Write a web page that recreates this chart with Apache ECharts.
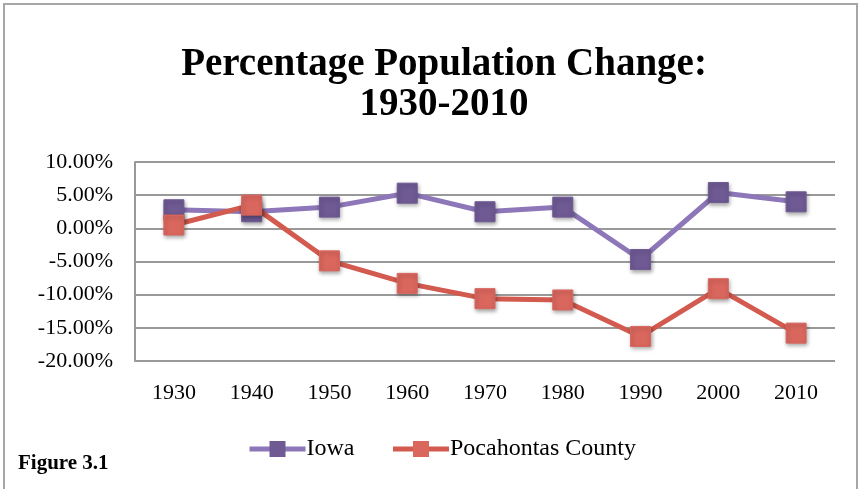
<!DOCTYPE html>
<html>
<head>
<meta charset="utf-8">
<script src="https://cdn.jsdelivr.net/npm/echarts@6/dist/echarts.min.js"></script>
<style>
  html, body { margin: 0; padding: 0; background: #fff; }
  #chart { width: 860px; height: 489px; }
</style>
</head>
<body>
<div id="chart"></div>
<script>
// decades on the x axis
var years = ['1930', '1940', '1950', '1960', '1970', '1980', '1990', '2000', '2010'];
// percent change per decade
var iowa = [2.8, 2.5, 3.2, 5.3, 2.5, 3.2, -4.7, 5.4, 4.0];
var pocahontas = [0.5, 3.5, -4.9, -8.3, -10.6, -10.8, -16.3, -9.1, -15.8];
var yTicks = { min: -20, max: 10, step: 5 };

var font = 'Liberation Serif';
var chart = echarts.init(document.getElementById('chart'));

function seriesOf(name, data, lineColor, markColor) {
    return {
        name: name,
        type: 'line',
        data: data,
        symbol: 'rect',
        symbolSize: 20,
        lineStyle: { color: lineColor, width: 5 },
        itemStyle: {
            color: markColor,
            borderColor: markColor,
            shadowColor: 'rgba(0,0,0,0.35)',
            shadowBlur: 4,
            shadowOffsetX: 1,
            shadowOffsetY: 2
        },
        emphasis: { disabled: true }
    };
}

chart.setOption({
    animation: false,
    textStyle: { fontFamily: font },
    graphic: [{
        type: 'rect',
        shape: { x: 4, y: 4, width: 853, height: 500 },
        style: { fill: 'none', stroke: '#a6a6a6', lineWidth: 2 }
    }, {
        type: 'text',
        left: 18,
        top: 453,
        style: { text: 'Figure 3.1', font: 'bold 21px ' + font, fill: '#000' }
    }],
    title: {
        text: 'Percentage Population Change:\n1930-2010',
        left: 439,
        textAlign: 'center',
        top: 40,
        textStyle: { fontFamily: font, fontSize: 39, fontWeight: 'bold', lineHeight: 40, color: '#000' }
    },
    legend: {
        bottom: 23,
        left: 242,
        itemWidth: 56,
        itemHeight: 20,
        itemGap: 36,
        lineStyle: { width: 5 },
        textStyle: { fontFamily: font, fontSize: 24, color: '#000', padding: [0, 0, 0, -4] },
        data: ['Iowa', 'Pocahontas County']
    },
    grid: { left: 135, right: 25, top: 162, bottom: 128 },
    xAxis: {
        type: 'category',
        data: years,
        axisLine: { lineStyle: { color: '#999', width: 2 } },
        axisTick: { show: false },
        axisLabel: { color: '#000', fontSize: 22, margin: 21 }
    },
    yAxis: {
        type: 'value',
        min: yTicks.min,
        max: yTicks.max,
        interval: yTicks.step,
        axisLine: { show: true, lineStyle: { color: '#999', width: 2 } },
        axisTick: { show: false },
        splitLine: { lineStyle: { color: '#999', width: 2 } },
        axisLabel: {
            color: '#000', fontSize: 22, margin: 22,
            formatter: function (v) { return v.toFixed(2) + '%'; }
        }
    },
    series: [
        seriesOf('Iowa', iowa, '#8d77b8', '#6f5a94'),
        seriesOf('Pocahontas County', pocahontas, '#d35a4f', '#da675e')
    ]
});
</script>
</body>
</html>
